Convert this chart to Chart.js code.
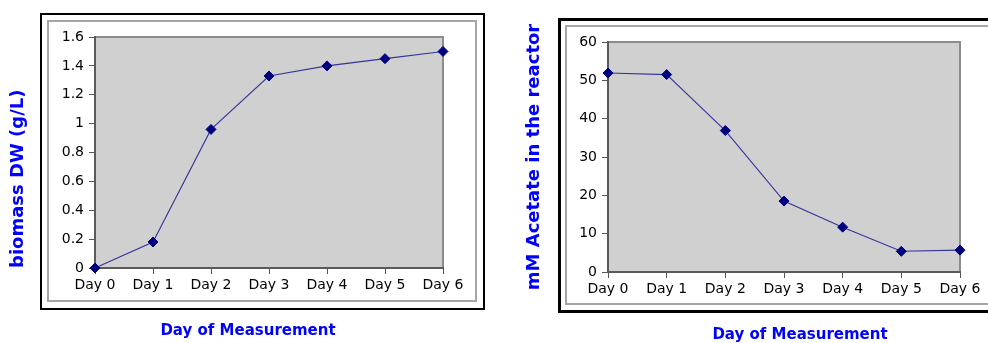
<!DOCTYPE html>
<html>
<head>
<meta charset="utf-8">
<script src="https://cdn.jsdelivr.net/npm/chart.js@4"></script>
<style>
  html, body { margin:0; padding:0; background:#fff; }
  body { width:988px; height:343px; position:relative; overflow:hidden; font-family:"DejaVu Sans", sans-serif; }
  .box { position:absolute; box-sizing:border-box; }
  canvas { position:absolute; top:0; }
  .xtitle { position:absolute; transform:translateX(-50%); white-space:nowrap; font:bold 15px/15px "DejaVu Sans", sans-serif; color:#0000ff; }
</style>
</head>
<body>
<div class="box" style="left:40px;top:13px;width:445px;height:297px;border:2px solid #000;"></div>
<div class="box" style="left:47px;top:20px;width:430px;height:282px;border:2px solid #a6a6a6;"></div>
<div class="box" style="left:558px;top:18px;width:460px;height:295px;border:3px solid #000;"></div>
<div class="box" style="left:565px;top:25px;width:440px;height:280px;border:2px solid #a6a6a6;"></div>
<canvas id="c1" width="494" height="343" style="left:0px"></canvas>
<canvas id="c2" width="494" height="343" style="left:494px"></canvas>
<div class="xtitle" id="xt1" style="left:248px;top:323px;"></div>
<div class="xtitle" id="xt2" style="left:800px;top:327px;"></div>
<script>
// ---- data ----
const days = ['Day 0', 'Day 1', 'Day 2', 'Day 3', 'Day 4', 'Day 5', 'Day 6'];
const biomass = [0, 0.18, 0.96, 1.33, 1.40, 1.45, 1.50];
const acetate = [51.9, 51.5, 36.9, 18.5, 11.7, 5.4, 5.7];
const xTitle = 'Day of Measurement';
const yTitleBiomass = 'biomass DW (g/L)';
const yTitleAcetate = 'mM Acetate in the reactor';

document.getElementById('xt1').textContent = xTitle;
document.getElementById('xt2').textContent = xTitle;

const plotBg = {
  id: 'plotBg',
  beforeDraw(chart) {
    const {ctx, chartArea: a} = chart;
    ctx.save();
    ctx.fillStyle = '#d0d0d0';
    ctx.fillRect(a.left, a.top, a.right - a.left, a.bottom - a.top);
    ctx.strokeStyle = '#8c8c8c';
    ctx.lineWidth = 2;
    ctx.strokeRect(a.left, a.top, a.right - a.left, a.bottom - a.top);
    ctx.restore();
  }
};

function makeChart(id, data, yMin, yMax, step, yTitle, titleAlign, titlePad, yWidth, xHeight, pad) {
  const tickFont = {family: 'DejaVu Sans', size: 14};
  return new Chart(document.getElementById(id), {
    type: 'line',
    data: {
      labels: days,
      datasets: [{
        data: data,
        borderColor: 'rgba(35,35,150,0.9)',
        borderWidth: 1.1,
        pointStyle: 'rectRot',
        pointRadius: 5,
        pointBackgroundColor: '#000080',
        pointBorderColor: '#000080',
        pointBorderWidth: 1,
        tension: 0,
        clip: false
      }]
    },
    options: {
      responsive: false,
      animation: false,
      events: [],
      layout: {padding: pad},
      plugins: {legend: {display: false}, tooltip: {enabled: false}},
      scales: {
        x: {
          offset: false,
          ticks: {color: '#000', font: tickFont, padding: 3, maxRotation: 0, autoSkip: false},
          grid: {offset: false, drawOnChartArea: false, tickLength: 6, tickColor: '#555', tickWidth: 1},
          border: {color: '#5a5a5a', width: 2},
          afterFit: s => { s.height = xHeight; }
        },
        y: {
          min: yMin, max: yMax,
          ticks: {
            stepSize: step, color: '#000', font: tickFont, padding: 5,
            callback: v => String(Math.round(v * 10) / 10)
          },
          grid: {drawOnChartArea: false, tickLength: 6, tickColor: '#555', tickWidth: 1},
          border: {color: '#5a5a5a', width: 2},
          title: {
            display: true, text: yTitle, color: '#0000ff', align: titleAlign,
            font: {family: 'DejaVu Sans', size: 18, weight: 'bold'},
            padding: {top: titlePad, bottom: 0}
          },
          afterFit: s => { s.width = yWidth; }
        }
      }
    },
    plugins: [plotBg]
  });
}

makeChart('c1', biomass, 0, 1.6, 0.2, yTitleBiomass, 'start', 8, 95, 75, {left: 0, top: 37, right: 51, bottom: 0});
makeChart('c2', acetate, 0, 60, 10, yTitleAcetate, 'center', 30, 114, 71, {left: 0, top: 42, right: 28, bottom: 0});
</script>
</body>
</html>
